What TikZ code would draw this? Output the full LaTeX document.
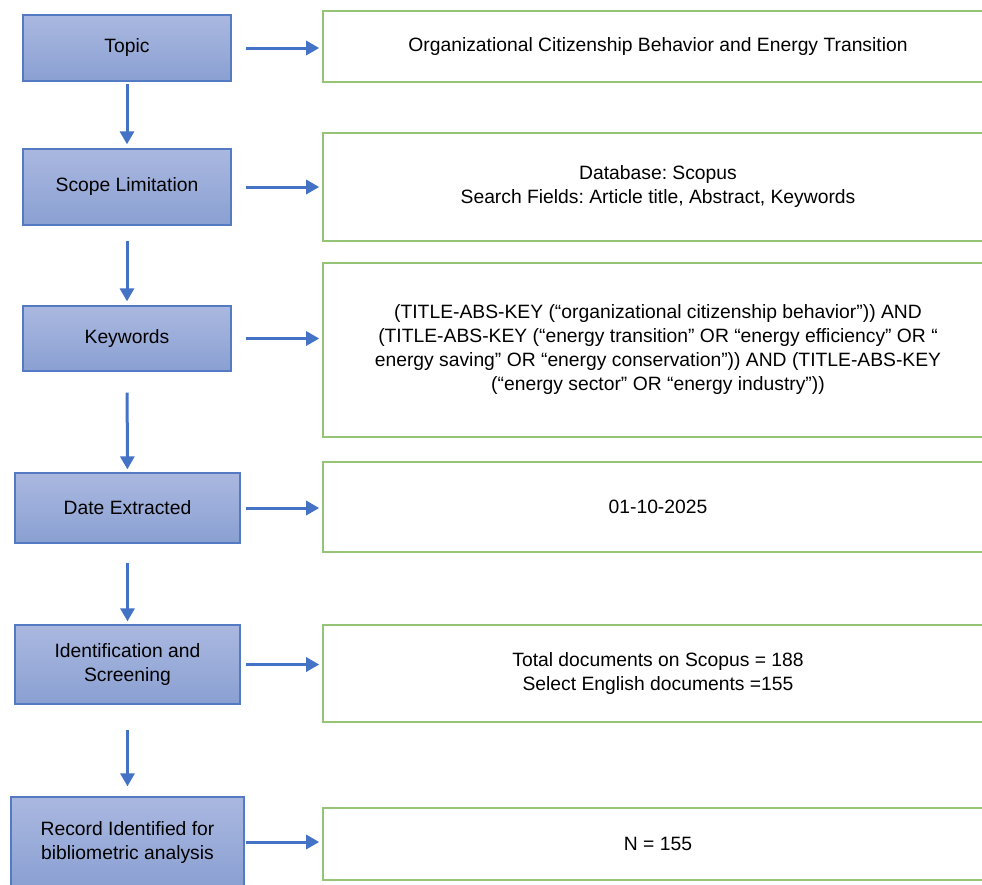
\documentclass[tikz,border=0pt]{standalone}
\usepackage{fontspec}
\setmainfont{Liberation Sans}
\frenchspacing
\usepackage{tikz}
\usetikzlibrary{arrows.meta,positioning}
\usepackage{xcolor}
\definecolor{stepblue}{RGB}{84,122,196}
\definecolor{steptop}{RGB}{170,184,224}
\definecolor{stepbottom}{RGB}{138,160,210}
\definecolor{arrowblue}{RGB}{68,114,196}
\definecolor{detgreen}{RGB}{150,196,118}
\tikzstyle{arrow} = [line width=3pt,-{Triangle[length=13pt,width=14pt]},color=arrowblue]
\tikzstyle{stepbox} = [rectangle, draw=stepblue, line width=1.3pt, top color=steptop, bottom color=stepbottom, text centered, align=center, font=\fontsize{19.3}{24}\selectfont, inner sep=0pt]
\tikzstyle{detail} = [rectangle, draw=detgreen, line width=1.6pt, fill=white, text centered, align=center, minimum width=670pt, font=\fontsize{19.3}{24}\selectfont, inner sep=0pt]

\begin{document}
\begin{tikzpicture}[x=1pt, y=-1pt]
    \useasboundingbox (0,0) rectangle (982,884);
    \clip (0,0) rectangle (982,884);

    % Steps
    \node[stepbox, minimum width=208pt, minimum height=66pt] (topic) at (127,48) {Topic};
    \node[stepbox, minimum width=208pt, minimum height=76pt] (scope) at (127,187) {Scope Limitation};
    \node[stepbox, minimum width=208pt, minimum height=65pt] (keys) at (127,338.5) {Keywords};
    \node[stepbox, minimum width=225pt, minimum height=70pt] (date) at (127.5,508) {Date Extracted};
    \node[stepbox, minimum width=225pt, minimum height=79pt] (ident) at (127.5,664.5) {Identification and\\Screening};
    \node[stepbox, minimum width=233pt, minimum height=90pt] (record) at (127.5,842) {Record Identified for\\bibliometric analysis};

    % Details
    \node[detail, minimum height=71pt] (topicR) at (658,46.5) {Organizational Citizenship Behavior and Energy Transition};
    \node[detail, minimum height=108pt] (scopeR) at (658,187) {Database: Scopus\\Search Fields: Article title, Abstract, Keywords};
    \node[detail, minimum height=174pt] (keysR) at (658,350) {(TITLE-ABS-KEY (“organizational citizenship behavior”)) AND\\(TITLE-ABS-KEY (“energy transition” OR “energy efficiency” OR “\\energy saving” OR “energy conservation”)) AND (TITLE-ABS-KEY\\(“energy sector” OR “energy industry”))};
    \node[detail, minimum height=90pt] (dateR) at (658,507) {01-10-2025};
    \node[detail, minimum height=97pt] (identR) at (658,673.5) {Total documents on Scopus = 188\\Select English documents =155};
    \node[detail, minimum height=72pt] (recordR) at (658,844) {N = 155};

    % Arrows down
    \draw[arrow, shorten <=2pt, shorten >=4pt] (topic) -- (scope);
    \draw[arrow, shorten <=15pt, shorten >=4pt] (scope) -- (keys);
    \draw[arrow, shorten <=21pt, shorten >=3pt] (keys) -- (date);
    \draw[arrow, shorten <=19pt, shorten >=3pt] (date) -- (ident);
    \draw[arrow, shorten <=25pt, shorten >=10pt] (ident) -- (record);

    % Arrows right
    \draw[arrow, shorten <=14pt, shorten >=3pt] (topic.east) -- (topic.east -| topicR.west);
    \draw[arrow, shorten <=14pt, shorten >=3pt] (scope.east) -- (scope.east -| scopeR.west);
    \draw[arrow, shorten <=14pt, shorten >=3pt] (keys.east) -- (keys.east -| keysR.west);
    \draw[arrow, shorten <=5pt, shorten >=3pt] (date.east) -- (date.east -| dateR.west);
    \draw[arrow, shorten <=5pt, shorten >=3pt] (ident.east) -- (ident.east -| identR.west);
    \draw[arrow, shorten <=1pt, shorten >=3pt] (record.east) -- (record.east -| recordR.west);
\end{tikzpicture}
\end{document}
